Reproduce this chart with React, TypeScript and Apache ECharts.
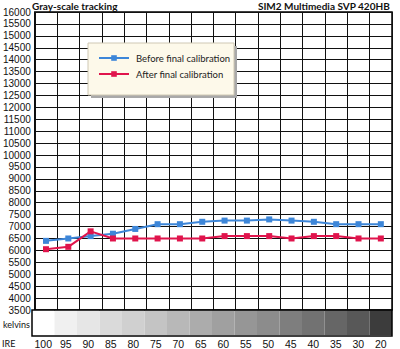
import React, { useEffect, useRef } from "react";
import * as echarts from "echarts";

const ireLabels = ["100", "95", "90", "85", "80", "75", "70", "65", "60", "55", "50", "45", "40", "35", "30", "20"];
const beforeCal = [6400, 6500, 6600, 6700, 6900, 7100, 7100, 7200, 7250, 7250, 7300, 7250, 7200, 7100, 7100, 7100];
const afterCal = [6050, 6150, 6800, 6500, 6500, 6500, 6500, 6500, 6600, 6600, 6600, 6500, 6600, 6600, 6500, 6500];
const stripGrays = ["#ffffff", "#f0f0f0", "#e6e6e6", "#dadada", "#d0d0d0", "#c4c4c4", "#b8b8b8", "#acacac", "#a0a0a0", "#969696", "#8c8c8c", "#7e7e7e", "#727272", "#666666", "#585858", "#3c3c3c"];

const BLUE = "#3d86d8";
const RED = "#e0144c";
const UI_FONT = "Lato";
const NUM_FONT = "Liberation Sans";

export default function App() {
  const ref = useRef<HTMLDivElement>(null);
  useEffect(() => {
    if (!ref.current) return;
    const chart = echarts.init(ref.current, undefined, { renderer: "svg" });
    chart.setOption({
      animation: false,
      backgroundColor: "#ffffff",
      title: [
        {
          text: "Gray-scale tracking",
          left: 32,
          top: 1,
          padding: 0,
          textStyle: { fontFamily: UI_FONT, fontWeight: "bold", fontSize: 10, color: "#111" },
        },
        {
          text: "SIM2 Multimedia SVP 420HB",
          right: 10,
          top: 1,
          padding: 0,
          textStyle: { fontFamily: UI_FONT, fontWeight: "bold", fontSize: 10, color: "#111" },
        },
      ],
      grid: [
        { left: 32, top: 12, width: 360, height: 298, show: true, borderColor: "#000", borderWidth: 1.5, backgroundColor: "#fff" },
        { left: 32, top: 310, width: 360, height: 26 },
      ],
      legend: {
        orient: "vertical",
        left: 98,
        top: 53,
        z: 10,
        itemWidth: 30,
        itemHeight: 7,
        itemGap: 6,
        padding: 0,
        textStyle: { fontFamily: UI_FONT, fontSize: 9.5, color: "#222", padding: [0, 0, 0, 2] },
        data: ["Before final calibration", "After final calibration"],
      },
      graphic: [
        { type: "rect", z: 5, shape: { x: 91, y: 46, width: 146, height: 52 }, style: { fill: "#a9a9a9" } },
        { type: "rect", z: 6, shape: { x: 88, y: 43, width: 146, height: 52 }, style: { fill: "#fdf9ea", stroke: "#cfc8b4", lineWidth: 1 } },
        { type: "rect", z: 100, shape: { x: 32, y: 310, width: 360, height: 26 }, style: { fill: "none", stroke: "#000", lineWidth: 1.5 } },
        { type: "text", z: 100, x: 3, y: 324, style: { text: "kelvins", font: `9px ${UI_FONT}`, fill: "#111", verticalAlign: "middle" } },
        { type: "text", z: 100, x: 2, y: 343, style: { text: "IRE", font: `9px ${UI_FONT}`, fill: "#111", verticalAlign: "middle" } },
      ],
      xAxis: [
        {
          gridIndex: 0,
          type: "category",
          data: ireLabels,
          boundaryGap: true,
          axisLabel: { show: false },
          axisTick: { show: false },
          axisLine: { show: false },
          splitLine: { show: true, interval: 0, lineStyle: { color: "#111", width: 1 } },
        },
        {
          gridIndex: 1,
          type: "category",
          data: ireLabels,
          boundaryGap: true,
          axisLabel: { show: true, interval: 0, margin: 3, fontSize: 10.5, fontFamily: NUM_FONT, color: "#111" },
          axisTick: { show: false },
          axisLine: { show: false },
          splitLine: { show: false },
        },
      ],
      yAxis: [
        {
          gridIndex: 0,
          type: "value",
          min: 3500,
          max: 16000,
          interval: 500,
          axisLabel: { margin: 4, fontSize: 10, fontFamily: NUM_FONT, color: "#111", formatter: (v: number) => String(v) },
          axisTick: { show: false },
          axisLine: { show: false },
          splitLine: { show: true, lineStyle: { color: "#111", width: 1 } },
        },
        { gridIndex: 1, type: "value", min: 0, max: 1, show: false },
      ],
      series: [
        {
          name: "Before final calibration",
          type: "line",
          xAxisIndex: 0,
          yAxisIndex: 0,
          data: beforeCal,
          symbol: "rect",
          symbolSize: 6,
          itemStyle: { color: BLUE },
          lineStyle: { color: BLUE, width: 2 },
          z: 3,
        },
        {
          name: "After final calibration",
          type: "line",
          xAxisIndex: 0,
          yAxisIndex: 0,
          data: afterCal,
          symbol: "rect",
          symbolSize: 6,
          itemStyle: { color: RED },
          lineStyle: { color: RED, width: 2 },
          z: 3,
        },
        {
          name: "kelvins",
          type: "bar",
          xAxisIndex: 1,
          yAxisIndex: 1,
          barWidth: "100%",
          barCategoryGap: 0,
          data: stripGrays.map((c) => ({ value: 1, itemStyle: { color: c } })),
          silent: true,
        },
      ],
    });
    return () => chart.dispose();
  }, []);
  return <div ref={ref} style={{ width: 400, height: 349, position: "absolute", left: 0, top: 0 }} />;
}
